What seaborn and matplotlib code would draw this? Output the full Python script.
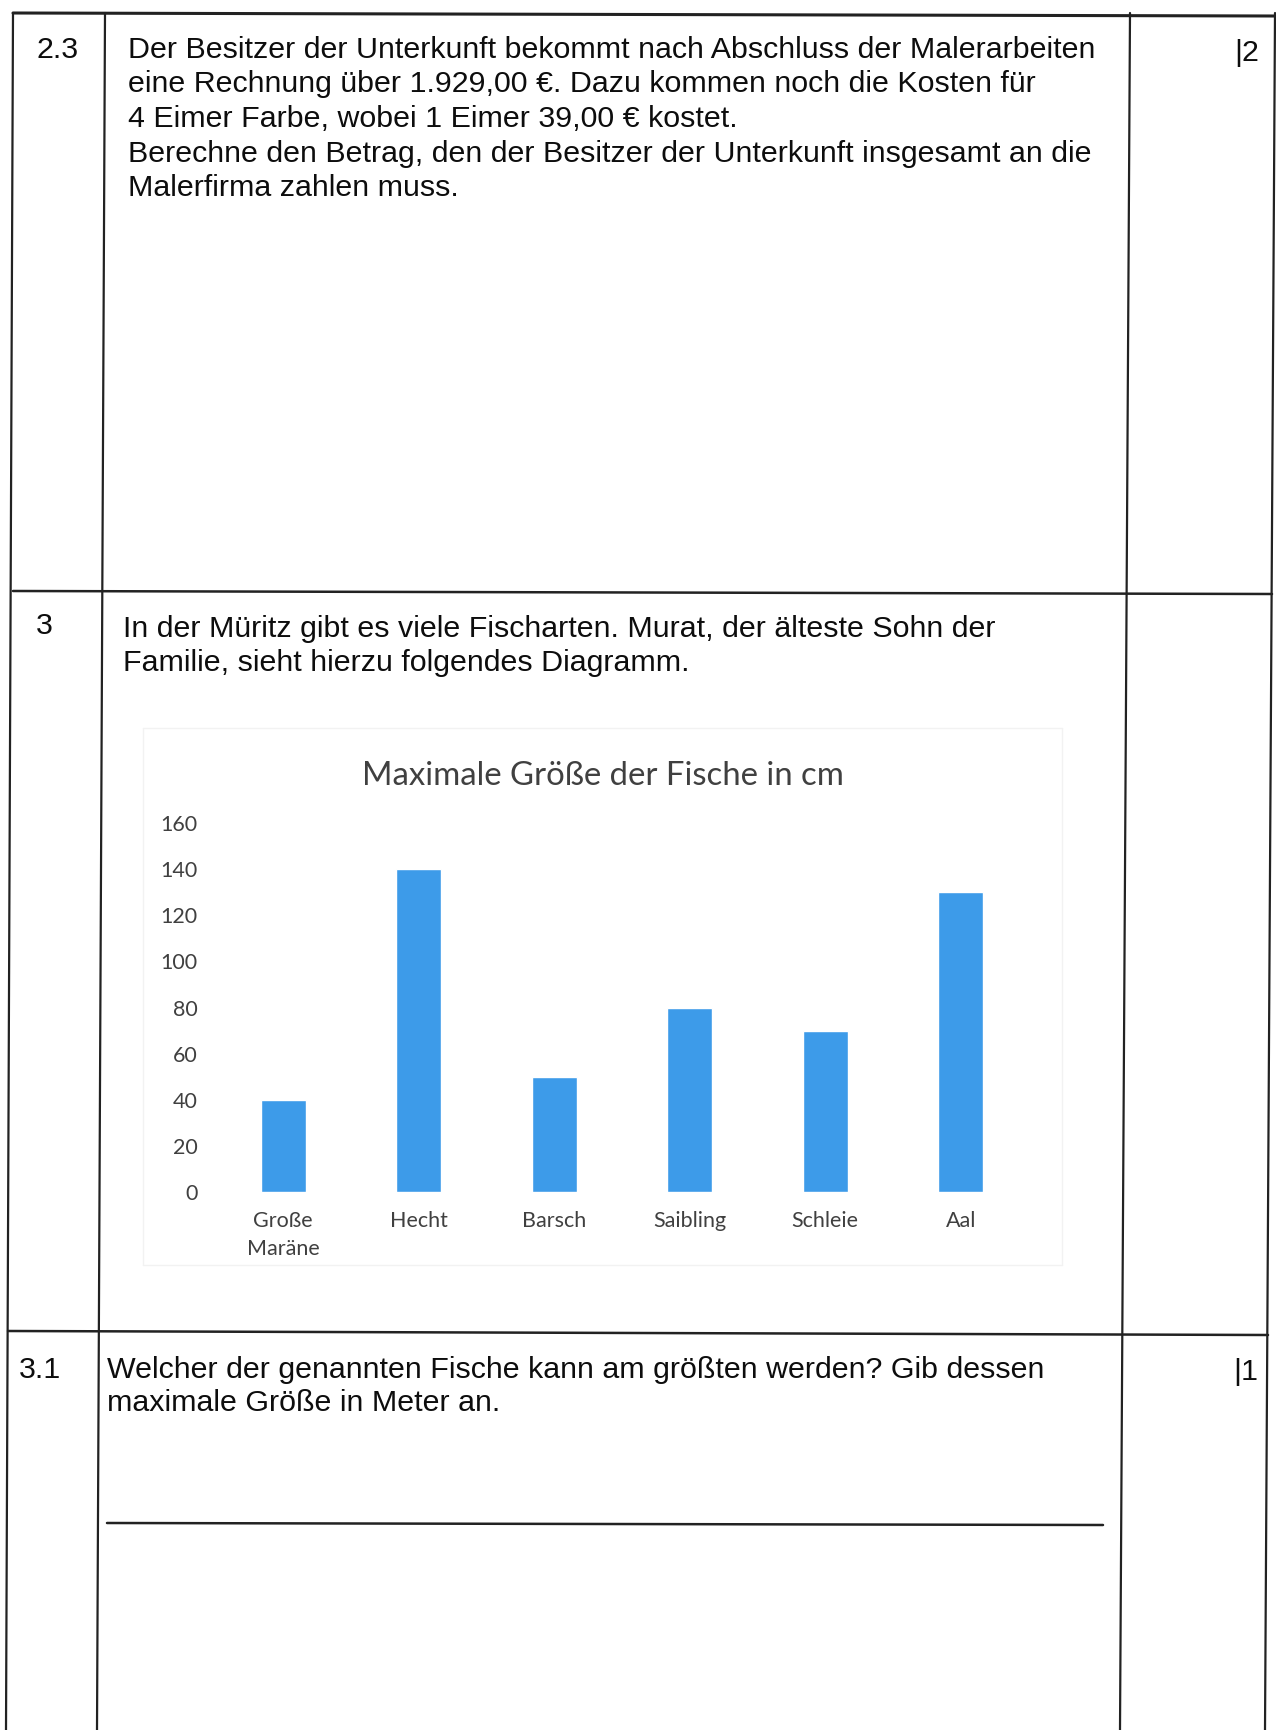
import matplotlib
matplotlib.use("Agg")
import matplotlib.pyplot as plt
import seaborn as sns
import pandas as pd
from matplotlib.lines import Line2D

# chart data
fish = ["Große\nMaräne", "Hecht", "Barsch", "Saibling", "Schleie", "Aal"]
max_size_cm = [40, 140, 50, 80, 70, 130]
y_ticks = [0, 20, 40, 60, 80, 100, 120, 140, 160]
chart_title = "Maximale Größe der Fische in cm"

# exam sheet text
task_23 = ["Der Besitzer der Unterkunft bekommt nach Abschluss der Malerarbeiten",
           "eine Rechnung über 1.929,00 €. Dazu kommen noch die Kosten für",
           "4 Eimer Farbe, wobei 1 Eimer 39,00 € kostet.",
           "Berechne den Betrag, den der Besitzer der Unterkunft insgesamt an die",
           "Malerfirma zahlen muss."]
task_3 = ["In der Müritz gibt es viele Fischarten. Murat, der älteste Sohn der",
          "Familie, sieht hierzu folgendes Diagramm."]
task_31 = ["Welcher der genannten Fische kann am größten werden? Gib dessen",
           "maximale Größe in Meter an."]

W, H = 1276, 1730
sns.set_style("white")
plt.rcParams['font.family'] = ['Liberation Sans', 'DejaVu Sans']

fig = plt.figure(figsize=(W / 100, H / 100), dpi=100)
fig.patch.set_facecolor("white")


def fx(x):
    return x / W


def fy(y):
    return 1 - y / H


def line(x0, y0, x1, y1, lw=1.6, color="#222222"):
    fig.add_artist(Line2D([fx(x0), fx(x1)], [fy(y0), fy(y1)], lw=lw, color=color,
                          transform=fig.transFigure))


def txt(x, y, s, size=21.9, **kw):
    fig.text(fx(x), fy(y), s, fontsize=size, va="center", ha="left", color="#0d0d0d", **kw)


# table grid (slightly skewed like the scan)
line(13, 13, 1275, 16, lw=2.2)
line(13, 591, 1272, 594, lw=1.8)
line(8, 1331, 1268, 1335, lw=1.8)
line(13, 13, 6, 1730)
line(105, 13, 97, 1730)
line(1130, 13, 1120, 1730)
line(1275, 13, 1265, 1730)

# row 2.3
txt(36, 50, "2.3")
for i, s in enumerate(task_23):
    txt(128, 50 + i * 34.5, s)
txt(1234, 53, "|2")

# row 3
txt(36, 626, "3")
for i, s in enumerate(task_3):
    txt(123, 629 + i * 34, s)

# row 3.1
txt(19, 1370, "3.1")
for i, s in enumerate(task_31):
    txt(107, 1370 + i * 33, s)
txt(1233, 1372, "|1")
line(107, 1523, 1103, 1525, lw=1.8)

# faint chart frame
line(143, 728, 1062, 728, lw=1, color="#f2f2f2")
line(143, 1265, 1062, 1265, lw=1, color="#f2f2f2")
line(143, 728, 143, 1265, lw=1, color="#f2f2f2")
line(1062, 728, 1062, 1265, lw=1, color="#f2f2f2")

# bar chart
df = pd.DataFrame({"Fisch": fish, "cm": max_size_cm})
ax_l, ax_r, ax_t, ax_b = 202, 1042, 823, 1192
ax = fig.add_axes([fx(ax_l), fy(ax_b), fx(ax_r - ax_l), (ax_b - ax_t) / H])
sns.barplot(data=df, x="Fisch", y="cm", color="#3d9be9", width=0.33, ax=ax, saturation=1)
ax.set_xlim(-0.6, 5.6)
ax.set_ylim(0, 160)
ax.set_yticks(y_ticks)
ax.set_xlabel("")
ax.set_ylabel("")
sns.despine(ax=ax, left=True, bottom=True)
ax.tick_params(axis="both", length=0, labelsize=15.5, labelcolor="#404040")
ax.tick_params(axis="x", pad=14)
ax.tick_params(axis="y", pad=3)
for lab in ax.get_xticklabels() + ax.get_yticklabels():
    lab.set_family(["Lato", "DejaVu Sans"])
    lab.set_linespacing(1.45)
ax.set_facecolor("none")
fig.text(fx(603), fy(776), chart_title, fontsize=23.7, ha="center", va="center",
         color="#404040", family=["Lato", "DejaVu Sans"])

fig.savefig("out.png", dpi=100, facecolor="white")
